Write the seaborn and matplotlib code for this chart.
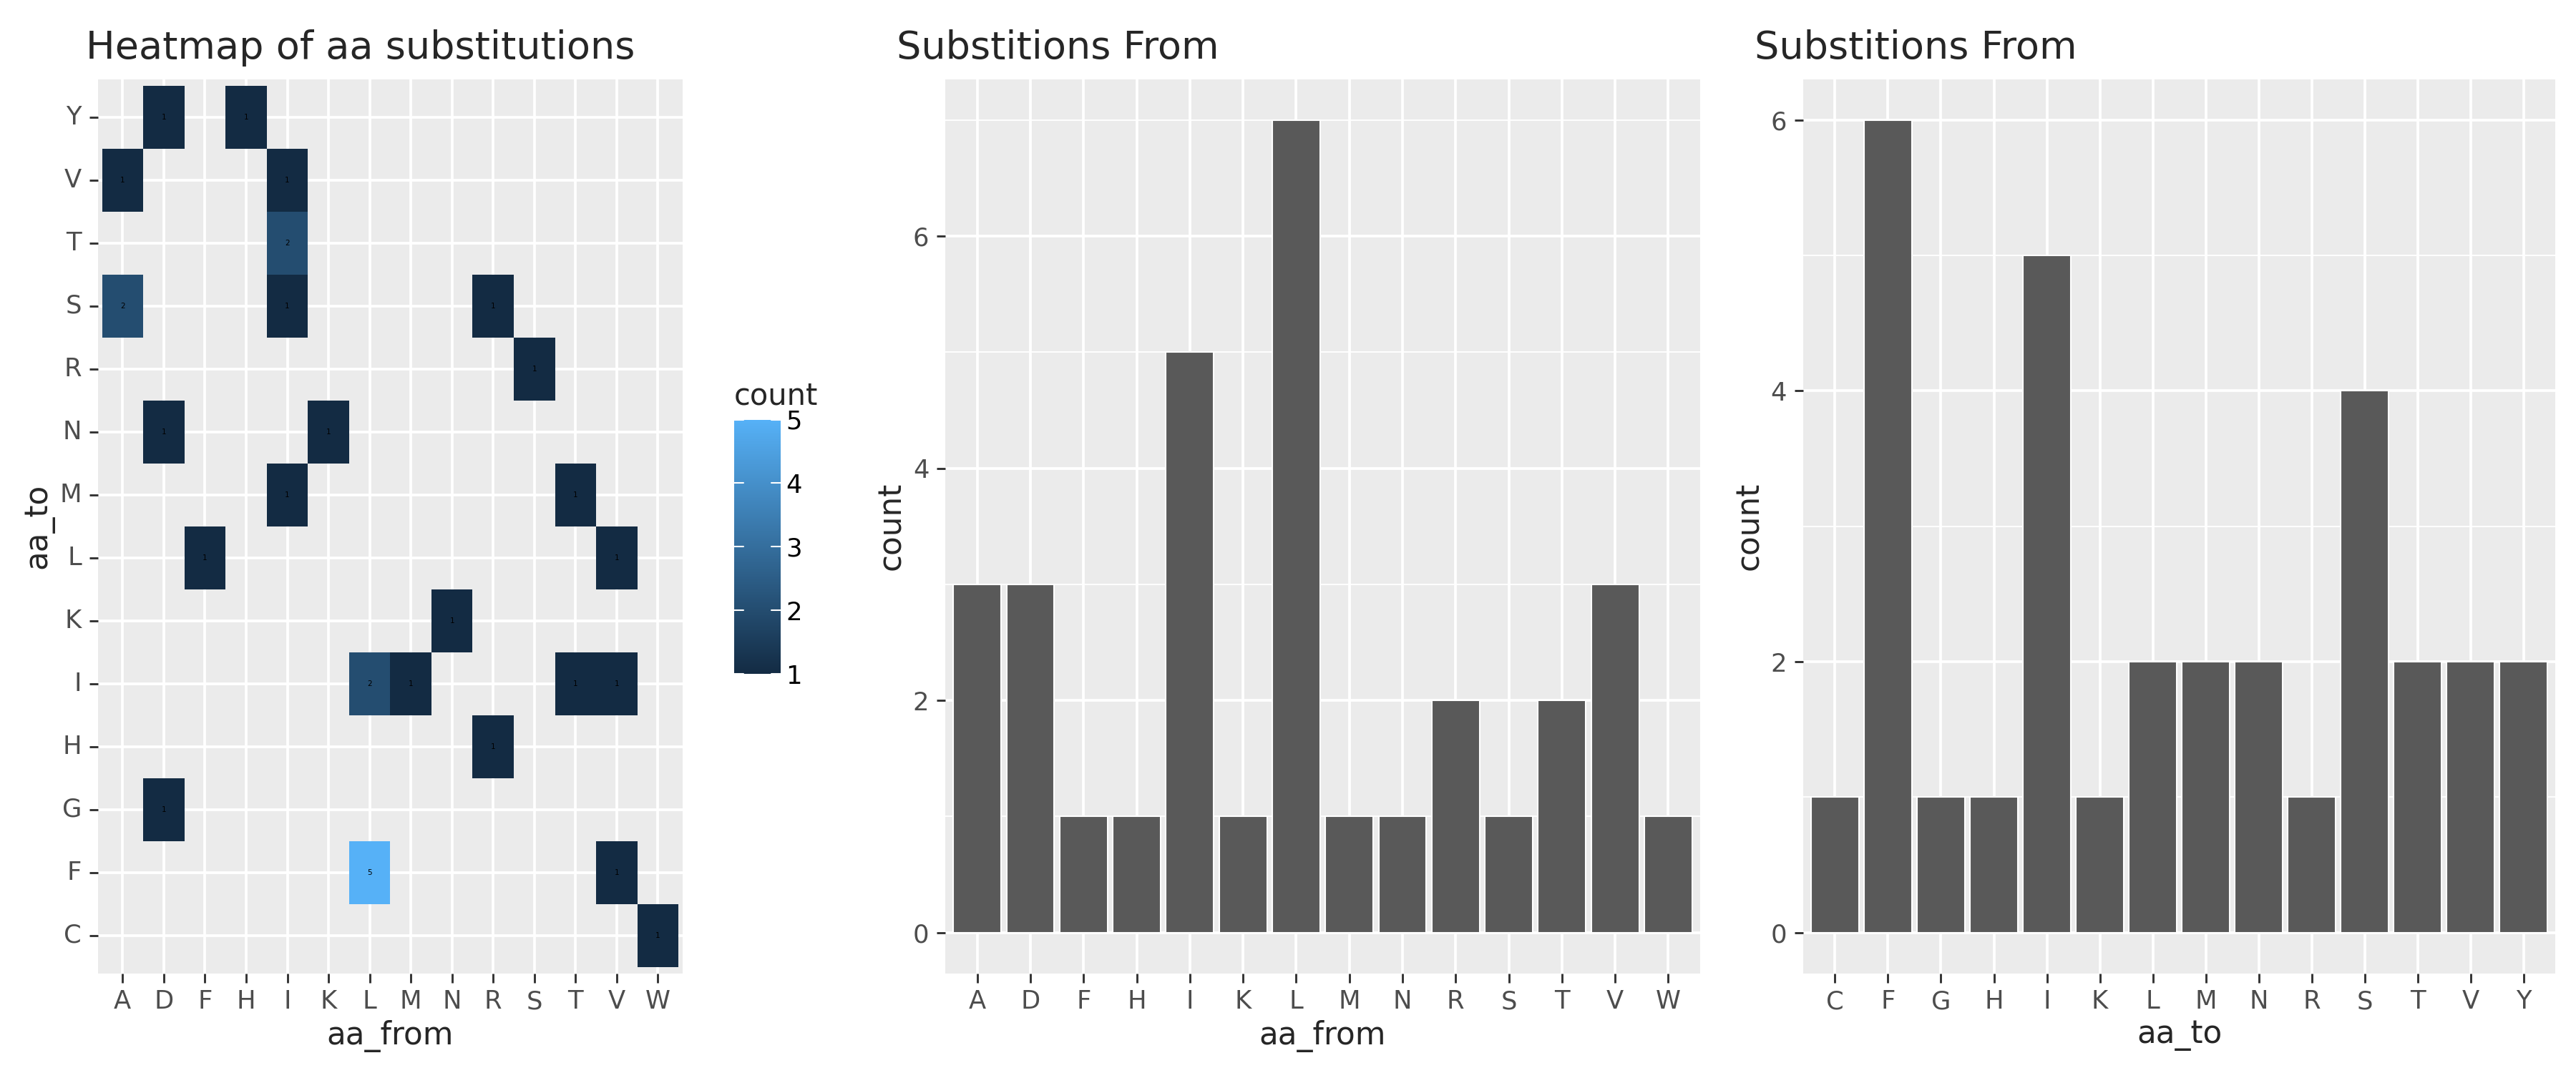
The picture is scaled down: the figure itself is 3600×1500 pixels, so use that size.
import numpy as np
import pandas as pd
import matplotlib
matplotlib.use("Agg")
import matplotlib.pyplot as plt
import seaborn as sns
from matplotlib.colors import LinearSegmentedColormap

aa_from = ["D","H","A","I","I","A","I","R","S","D","K","I","T","F","V","N","L","M","T","V","R","D","L","V","W"]
aa_to   = ["Y","Y","V","V","T","S","S","S","R","N","N","M","M","L","L","K","I","I","I","I","H","G","F","F","C"]
counts  = [1,1,1,1,2,2,1,1,1,1,1,1,1,1,1,1,2,1,1,1,1,1,5,1,1]

from_levels = ["A","D","F","H","I","K","L","M","N","R","S","T","V","W"]
to_levels = ["C","F","G","H","I","K","L","M","N","R","S","T","V","Y"]

df = pd.DataFrame({"aa_from": aa_from, "aa_to": aa_to, "count": counts})

sns.set_theme(style="darkgrid")
plt.rcParams['font.family'] = ['DejaVu Sans']
BG = "#EBEBEB"
TXT = "#4D4D4D"

fig = plt.figure(figsize=(24, 10), dpi=150)
cmap = LinearSegmentedColormap.from_list("gg", ["#132B43", "#56B1F7"])

def style(ax):
    ax.set_facecolor(BG)
    for s in ax.spines.values():
        s.set_visible(False)
    ax.tick_params(axis="both", which="major", length=6, width=1.4, color="#333333",
                   labelsize=17, labelcolor=TXT, pad=5, bottom=True, left=True)
    ax.set_axisbelow(True)

# Heatmap
ax1 = fig.add_axes([0.038, 0.093, 0.227, 0.833])
cax = fig.add_axes([0.285, 0.372, 0.018, 0.237])
mat = df.pivot(index="aa_to", columns="aa_from", values="count").reindex(index=to_levels[::-1], columns=from_levels)
sns.heatmap(mat, ax=ax1, cmap=cmap, vmin=1, vmax=5, cbar_ax=cax, annot=True, fmt=".0f",
            annot_kws={"size": 5, "color": "black"}, square=False, linewidths=0)
style(ax1)
ax1.grid(True, color="white", linewidth=1.8)
ax1.set_axisbelow(True)
for c in ax1.collections:
    c.set_zorder(2)
for t in ax1.texts:
    t.set_zorder(3)
ax1.set_xlim(-0.1, len(from_levels) + 0.1)
ax1.set_ylim(len(to_levels) + 0.1, -0.1)
ax1.set_xticks(np.arange(len(from_levels)) + 0.5)
ax1.set_xticklabels(from_levels, rotation=0)
ax1.set_yticks(np.arange(len(to_levels)) + 0.5)
ax1.set_yticklabels(to_levels[::-1], rotation=0)
ax1.set_xlabel("aa_from", fontsize=21)
ax1.set_ylabel("aa_to", fontsize=21)
ax1.set_title("Heatmap of aa substitutions", fontsize=26, loc="left", x=-0.02, pad=14)
cax.set_title("count", fontsize=20, loc="left", pad=10)
cax.tick_params(length=0, labelsize=17, labelcolor="black")
cax.set_yticks([1, 2, 3, 4, 5])
for v in [1, 2, 3, 4, 5]:
    cax.plot([0, 0.2], [v, v], color="white", lw=1, transform=cax.get_yaxis_transform())
    cax.plot([0.8, 1], [v, v], color="white", lw=1, transform=cax.get_yaxis_transform())
for s in cax.spines.values():
    s.set_visible(False)

def barpanel(rect, col, levels, ymax, ticks):
    ax = fig.add_axes(rect)
    c = df.groupby(col)["count"].sum().reindex(levels).reset_index()
    sns.barplot(data=c, x=col, y="count", order=levels, color="#595959", width=0.9,
                saturation=1, ax=ax)
    style(ax)
    ax.set_ylim(-ymax * 0.05, ymax * 1.05)
    ax.set_xlim(-0.6, len(levels) - 0.4)
    ax.set_yticks(ticks)
    minor = [t + 1 for t in ticks if t + 1 <= ymax * 1.05]
    ax.set_yticks(minor, minor=True)
    ax.grid(True, which="major", color="white", linewidth=1.8)
    ax.grid(True, which="minor", axis="y", color="white", linewidth=0.9)
    ax.tick_params(which="minor", length=0)
    ax.set_xlabel(col, fontsize=21)
    ax.set_ylabel("count", fontsize=21)
    ax.set_title("Substitions From", fontsize=26, loc="left", x=-0.065, pad=14)
    return ax

barpanel([0.367, 0.093, 0.293, 0.833], "aa_from", from_levels, 7, [0, 2, 4, 6])
barpanel([0.700, 0.093, 0.292, 0.833], "aa_to", to_levels, 6, [0, 2, 4, 6])

fig.savefig("out.png", dpi=150, facecolor="white")
